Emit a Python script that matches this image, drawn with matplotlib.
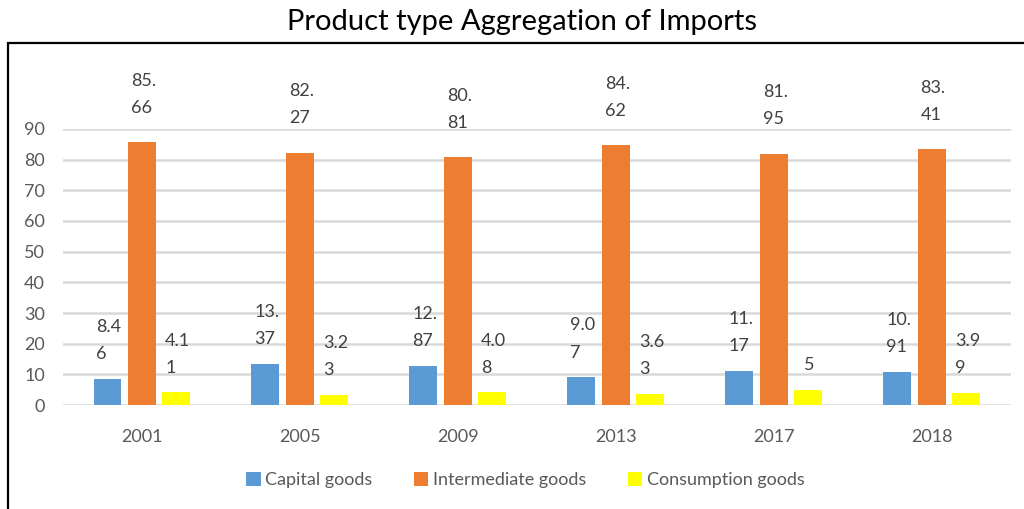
import matplotlib.pyplot as plt
import matplotlib.patches as mpatches
import numpy as np

plt.rcParams['font.family'] = ['Lato', 'DejaVu Sans']

years = ['2001', '2005', '2009', '2013', '2017', '2018']
capital = [8.46, 13.37, 12.87, 9.07, 11.17, 10.91]
intermediate = [85.66, 82.27, 80.81, 84.62, 81.95, 83.41]
consumption = [4.11, 3.23, 4.08, 3.63, 5, 3.99]

series = [
    ('Capital goods', capital, '#5B9BD5', 12),
    ('Intermediate goods', intermediate, '#ED7D31', 19),
    ('Consumption goods', consumption, '#FFFF00', 12),
]

fig = plt.figure(figsize=(10.24, 5.09), dpi=100)
ax = fig.add_axes([0.0615, 0.2043, 0.9255, 0.5423])

x = np.arange(len(years))
w = 0.177
step = 0.218


def wrap(v):
    s = f'{v:g}'
    if len(s) > 3:
        s = s[:3] + '\n' + s[3:]
    return s


for i, (name, vals, col, off) in enumerate(series):
    pos = x + (i - 1) * step
    ax.bar(pos, vals, width=w, color=col, label=name, zorder=3)
    for p, v in zip(pos, vals):
        ax.annotate(wrap(v), (p, v), xytext=(1, off), textcoords='offset points',
                    ha='center', va='bottom', multialignment='left',
                    fontsize=13, color='#404040', linespacing=1.85,
                    annotation_clip=False)

ax.set_xlim(-0.5, len(years) - 0.5)
ax.set_ylim(0, 90)
ax.set_yticks(range(0, 91, 10))
ax.set_xticks(x)
ax.set_xticklabels(years)
ax.tick_params(axis='both', length=0, labelsize=13, labelcolor='#595959')
ax.tick_params(axis='y', pad=13)
ax.tick_params(axis='x', pad=17)
ax.grid(axis='y', color='#D9D9D9', linewidth=1.8, zorder=0)
for s in ax.spines.values():
    s.set_visible(False)

fig.text(0.51, 0.957, 'Product type Aggregation of Imports', ha='center', va='center',
         fontsize=21, color='#000000')

fig.legend(loc='center', bbox_to_anchor=(0.513, 0.057), ncol=3, frameon=False,
           fontsize=13, labelcolor='#595959', handlelength=0.8, handleheight=0.8,
           handletextpad=0.25, columnspacing=2.3)

frame = mpatches.Rectangle((0.0078, -0.1), 1.1, 1.0155, transform=fig.transFigure,
                           fill=False, edgecolor='black', linewidth=1.6)
fig.patches.append(frame)

fig.savefig('out.png', dpi=100)
